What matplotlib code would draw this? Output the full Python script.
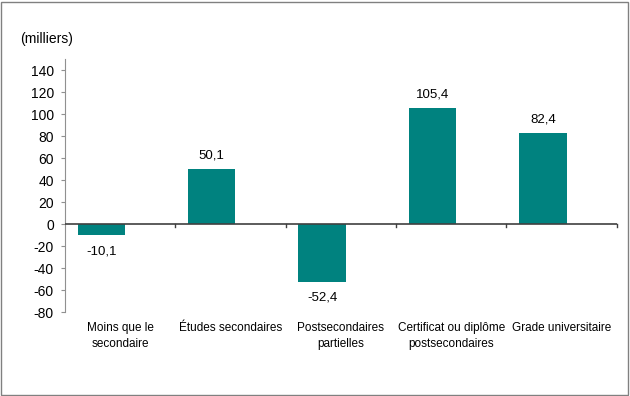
import matplotlib
matplotlib.use('Agg')
import matplotlib.pyplot as plt
from matplotlib.patches import Rectangle

plt.rcParams['font.family'] = ['Liberation Sans', 'DejaVu Sans']

categories = ['Moins que le\nsecondaire', 'Études secondaires', 'Postsecondaires\npartielles',
              'Certificat ou diplôme\npostsecondaires', 'Grade universitaire']
values = [-10.1, 50.1, -52.4, 105.4, 82.4]
value_labels = ['-10,1', '50,1', '-52,4', '105,4', '82,4']
yticks = [-80, -60, -40, -20, 0, 20, 40, 60, 80, 100, 120, 140]

fig = plt.figure(figsize=(6.30, 3.96), dpi=100)
ax = fig.add_axes([0.103, 0.212, 0.876, 0.639])

x = list(range(len(categories)))
# bars sit left of the category centre (hidden second series in the original)
bar_x = [i - 0.17 for i in x]
ax.bar(bar_x, values, width=0.43, color='#00827F', zorder=2)

ax.set_xlim(-0.5, 4.5)
ax.set_ylim(-80, 150)
ax.set_yticks(yticks)
ax.set_yticklabels([str(t) for t in yticks], fontsize=10)

for s in ['top', 'right', 'bottom']:
    ax.spines[s].set_visible(False)
ax.spines['left'].set_color('#909090')
ax.tick_params(axis='y', length=3, color='#909090', pad=5)

# x axis at zero
ax.axhline(0, color='#404040', lw=1.2, zorder=3)
ax.set_xticks([])
for b in [0.5, 1.5, 2.5, 3.5, 4.5]:
    ax.plot([b, b], [0, -2.5], color='#404040', lw=1, zorder=3, clip_on=False)

for bx, v, lab in zip(bar_x, values, value_labels):
    if v >= 0:
        ax.text(bx, v + 7, lab, ha='center', va='bottom', fontsize=9.5)
    else:
        ax.text(bx, v - 9, lab, ha='center', va='top', fontsize=9.5)

for i, c in enumerate(categories):
    ax.text(i, -89, c, ha='center', va='top', fontsize=8.5, linespacing=1.4)

fig.text(0.032, 0.902, '(milliers)', fontsize=10, ha='left', va='center')

fig.patches.append(Rectangle((0.002, 0.003), 0.995, 0.993, transform=fig.transFigure,
                             fill=False, edgecolor='#808080', lw=1))

fig.savefig('out.png', dpi=100)
